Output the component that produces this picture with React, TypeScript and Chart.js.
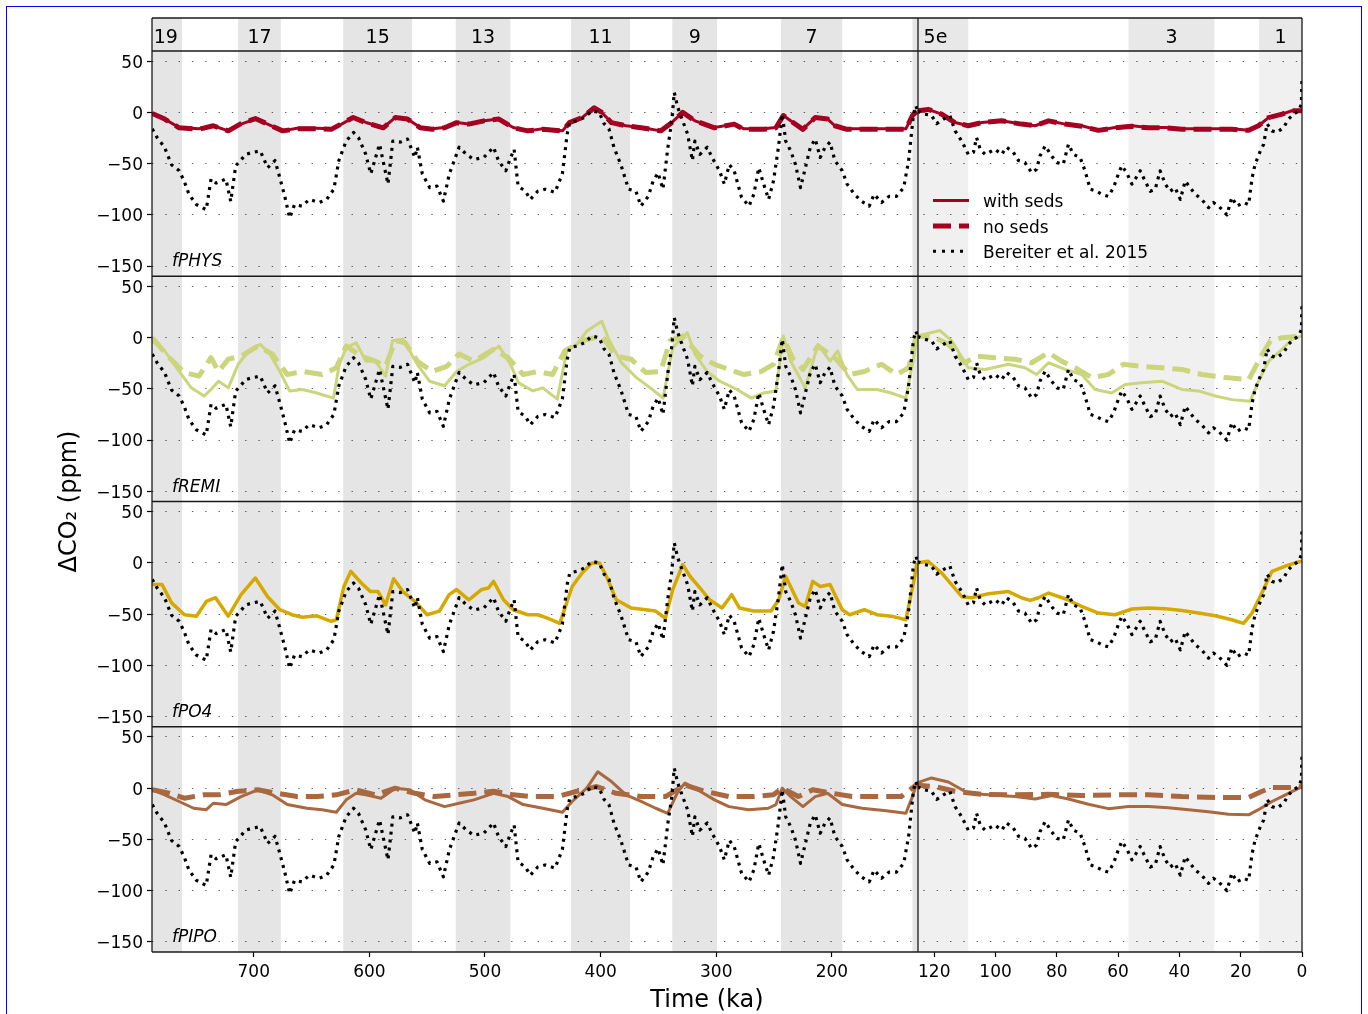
import React, { useEffect, useRef } from 'react';
import { Chart, registerables } from 'chart.js';

Chart.register(...registerables);

type Series = [number, number][];

// ---------- categories / labels ----------
const misLabels = ['19', '17', '15', '13', '11', '9', '7', '5e', '3', '1'];
const misStart = [790, 713.5, 622.6, 525.3, 425.5, 338, 244, 130.3, 56.6, 14];
const misEnd = [762, 676.6, 563, 478, 374.5, 299.3, 191, 108.9, 28.6, 0];
const xTicksLeft = [700, 600, 500, 400, 300, 200];
const xTicksRight = [120, 100, 80, 60, 40, 20, 0];
const yTicks = [50, 0, -50, -100, -150];
const panelLabels = ['fPHYS', 'fREMI', 'fPO4', 'fPIPO'];
const legendLabels = ['with seds', 'no seds', 'Bereiter et al. 2015'];

// ---------- Bereiter et al. 2015 (ΔCO2, ppm) [age ka, value] ----------
const bereiter: Series = [
  [787.8, -16], [783.6, -24.5], [777.2, -34], [771.1, -51], [764.5, -57], [760.2, -67], [756, -80], [749.6, -90],
  [741.1, -95], [736.9, -65], [732.6, -69], [724.1, -65], [719.9, -87], [715.6, -52], [711.4, -47], [707.1, -41],
  [700.8, -39], [694.4, -37.5], [688, -54], [681.6, -47], [677.4, -64], [673.2, -82], [668.9, -103], [664.7, -90],
  [658.3, -91.5], [651.9, -85], [643.4, -88], [637, -85], [630.7, -75], [626.4, -47], [620.1, -28], [613.7, -19.6],
  [609.4, -24.5], [603.1, -41], [598.8, -60], [594.6, -44], [591.2, -31], [588.2, -47], [583.9, -70], [579.7, -28],
  [573.3, -29], [567, -26], [560.6, -44], [558.5, -34], [554.2, -60], [547.8, -73.5], [541.5, -72], [536, -86.6],
  [530.8, -60], [522.4, -34], [516, -41], [509.6, -46], [501.1, -44], [492.6, -34], [488.4, -47], [482, -57],
  [477.8, -44], [474.8, -36], [471.4, -72], [465, -77], [460.8, -85], [454.4, -77], [448, -75], [439.5, -78],
  [433.1, -60], [428.9, -21], [426.7, -10], [420.4, -8], [414, -5], [407.6, 1.6], [401.3, 0], [397, -11],
  [392.8, -16], [388.5, -34], [382.2, -52], [375.8, -75], [369.4, -77], [365.2, -91.5], [358.8, -82], [354.6, -67],
  [350.3, -59], [346.1, -75], [341.8, -34], [338.4, -8], [336.3, 19.6], [333.3, 5], [329.1, -8], [324.8, -21],
  [320.6, -47], [318.5, -28], [314.2, -41], [307.8, -34], [303.6, -44], [297.2, -57], [293, -70], [288.7, -51],
  [284.5, -57], [278.1, -83], [271.7, -91.5], [267.5, -80], [263.2, -54], [259, -70], [254.7, -85], [250.5, -67],
  [246.2, -34], [242.9, -1.6], [239.9, -28], [235.6, -37.6], [231.4, -51], [227.1, -73.5], [222.9, -54], [218.6, -34],
  [214.4, -26], [210.1, -44], [205.9, -34], [201.6, -29], [197.4, -47], [191, -57], [186.8, -70], [180.4, -80],
  [174, -87], [167.7, -91.5], [163.4, -80], [157, -88], [150.6, -82], [144.3, -82], [137.9, -73.5], [133.6, -47],
  [129.4, -1.6], [127.3, 6.5], [125.8, 1.6], [123, -1.6], [120.9, -3], [119.2, -11], [117, -6.5], [114.9, -3],
  [113.2, -18], [111, -28], [108.9, -41], [107.2, -39], [106.2, -24.5], [105, -36], [103.4, -41], [100.2, -36],
  [98, -41], [96.4, -34], [94.2, -39], [92.5, -47], [90.4, -49], [88.2, -59], [86.6, -55.5], [85.5, -42.5],
  [83.8, -32.7], [81.7, -42.5], [80, -49], [77.9, -50.6], [76.2, -31], [74.6, -41], [72.4, -44], [70.8, -57],
  [69.1, -75], [67, -77], [65.3, -80], [63.2, -82], [61.5, -73.5], [59.9, -60], [58.8, -52], [57.2, -59],
  [55.5, -70], [54.4, -65], [52.8, -57], [51.2, -67], [49.5, -77], [47.9, -75], [46.3, -57], [44.6, -70],
  [43, -77], [41.4, -73.5], [39.7, -85], [38.1, -67], [36.5, -73.5], [34.8, -80], [32.7, -85], [30.5, -93],
  [28.9, -88], [27.2, -91.5], [24.5, -100], [22.9, -83], [21.2, -91.5], [19.1, -88], [17.4, -90], [16.3, -64],
  [15.3, -50.6], [13.6, -37.6], [12.5, -31], [11.4, -11], [9.8, -18], [8.2, -19.6], [6, -14.7], [4.4, -6.5],
  [2.7, -1.6], [1.1, 1.6], [0.2, 8], [0, 34],
];

// ---------- fPHYS ----------
const fphysWithSeds: Series = [
  [787.8, -1.6], [777, -6.5], [764.5, -14.7], [747.5, -16], [735, -13], [722, -18], [711, -11.4], [698.6, -6.5],
  [688, -11.4], [675, -18], [662.5, -15.4], [645.5, -15.4], [633, -16], [624, -11.4], [614, -5], [603, -9.8],
  [588, -14.7], [577.6, -5], [567, -6.5], [556, -14.7], [545.7, -16], [535, -14.7], [524.5, -9.8], [514, -11.4],
  [501, -8.2], [488, -6.5], [475.6, -14.7], [463, -18], [450, -16], [433, -18], [427, -9.8], [416, -5],
  [405.5, 5], [399, 0], [390.6, -9.8], [378, -13], [365, -14.7], [348, -18], [340, -11.4], [329, 0],
  [318.4, -8.2], [301.5, -14.7], [284.5, -11.4], [276, -16], [259, -16], [248.4, -14.7], [242, -3], [235.6, -8.2],
  [225, -16], [214.4, -5], [203.7, -6.5], [197.4, -13], [187, -16], [170, -16], [153, -16], [136, -16],
  [130.3, -3], [126.5, 1], [122, 3], [117.6, -1.6], [113.2, -9.8], [108.9, -13], [104.5, -9.8], [98, -8.2],
  [91.5, -11.4], [87.1, -13], [82.7, -8.2], [77.3, -11.4], [71.9, -13], [66.4, -17.3], [61, -14.7], [55.5, -13],
  [50.1, -14.7], [44.6, -14.7], [39.2, -16], [33.8, -16], [28.3, -16], [22.9, -16], [17.4, -17.3], [14.2, -13],
  [10.9, -5], [6.5, -1.6], [3.3, 1.6], [0, 1.6],
];
const fphysNoSeds: Series = [
  [787.8, -1], [777, -6.5], [764.5, -15], [747.5, -16.5], [735, -13], [722, -18], [711, -11], [698.6, -6],
  [688, -11.4], [675, -18], [662.5, -16], [645.5, -16], [633, -16.5], [624, -11], [614, -5], [603, -10],
  [588, -15], [577.6, -5], [567, -6.5], [556, -15], [545.7, -16.5], [535, -15], [524.5, -10], [514, -11.4],
  [501, -8.2], [488, -6.5], [475.6, -15], [463, -18], [450, -16.5], [433, -18], [427, -10], [416, -5],
  [405.5, 4.5], [399, 0], [390.6, -10], [378, -13], [365, -15], [348, -18], [340, -11.4], [329, 0],
  [318.4, -8.2], [301.5, -15], [284.5, -11.4], [276, -16.5], [259, -16.5], [248.4, -15], [242, -3], [235.6, -8.2],
  [225, -16.5], [214.4, -5], [203.7, -6.5], [197.4, -13], [187, -16.5], [170, -16.5], [153, -16.5], [136, -16.5],
  [130.3, -3], [126.5, 1], [122, 3], [117.6, -1.6], [113.2, -10], [108.9, -13], [104.5, -10], [98, -8.2],
  [91.5, -11.4], [87.1, -13], [82.7, -8.2], [77.3, -11.4], [71.9, -13.5], [66.4, -17.5], [61, -15], [55.5, -13.5],
  [50.1, -15], [44.6, -15], [39.2, -16.5], [33.8, -16.5], [28.3, -16.5], [22.9, -16.5], [17.4, -17.5], [14.2, -13],
  [10.9, -5], [6.5, -1.6], [3.3, 1.6], [0, 1.6],
];

// ---------- fREMI ----------
const fremiWithSeds: Series = [
  [787.8, -3], [777, -13], [764.5, -33], [754, -49], [743, -57], [737, -50.6], [730.5, -42.5], [722, -49],
  [713.5, -26], [703, -11.4], [694.4, -6.5], [686, -16], [677.4, -33], [669, -52], [658, -50.6], [645.5, -54],
  [631, -59], [626, -26], [620, -9.8], [611.5, -5], [603, -23], [594.6, -23], [586, -37.6], [580, -3],
  [571, -1.6], [558.5, -26], [548, -42.5], [535, -47], [524.5, -33], [514, -26], [501, -19.6], [488, -8.2],
  [478, -26], [471, -44], [458.6, -52], [450, -49], [437.5, -60], [429, -11.4], [420.4, -6.5], [412, 6.5],
  [399, 16], [393, -1.6], [382, -24.5], [369, -39], [357, -49], [346, -59], [337.6, -9.8], [325, 5],
  [318.4, -16], [308, -33], [297, -42.5], [282, -50.6], [269.6, -59], [259, -54], [248.4, -52], [242, 1.6],
  [235.6, -23], [223, -49], [212, -6.5], [201.6, -23], [195, -13], [187, -36], [178, -50.6], [161, -50.6],
  [148.5, -54], [136, -59], [130.3, -26], [126.5, -1.6], [125.8, 1.6], [118.1, 7], [114.3, -3], [108.9, -29.4],
  [103.4, -31], [95.8, -26], [90.4, -29.4], [86.6, -36], [82.7, -24.5], [77.3, -31], [71.9, -36], [67.5, -50.6],
  [62.1, -54], [57.7, -45.7], [52.3, -44], [45.7, -42.5], [39.2, -50.6], [33.8, -52], [28.3, -57], [22.9, -60.5],
  [16.9, -62], [14.2, -42.5], [10.9, -23], [6.5, -11.4], [3.3, -1.6], [0, 1.6],
];
const fremiNoSeds: Series = [
  [787.8, 0], [773, -19.6], [760, -34], [747.5, -37.6], [737, -19.6], [730.5, -33], [722, -21], [711, -18],
  [696.6, -8.2], [684, -16], [671, -36], [658, -33], [641, -36], [628.6, -29.4], [620, -8.2], [607, -18],
  [594.6, -23], [586, -28], [577.6, -3], [569, -5], [558.5, -23], [545.7, -33], [533, -28], [522.4, -16],
  [509.6, -23], [492.6, -11.4], [480, -19.6], [467, -36], [454.4, -33], [441.6, -36], [431, -13], [416, -3],
  [399, 1.6], [386.5, -18], [373.6, -21], [361, -34], [348, -33], [340, -3], [329, 1.6], [314, -18],
  [301.5, -26], [289, -31], [276, -36], [261, -33], [250.5, -26], [242, 0], [233.5, -21], [225, -31],
  [212, -8.2], [197.4, -19.6], [184.6, -36], [172, -33], [157, -26], [144, -36], [133.6, -29.4], [127.3, 0],
  [125.8, 1.6], [119.8, 0], [115.4, -6.5], [110, -24.5], [106.2, -18], [100.2, -19.6], [93.6, -21], [88.2, -24.5],
  [82.7, -14.7], [78.4, -23], [74, -29.4], [68.6, -39], [63.2, -36], [58.3, -26], [52.3, -28], [45.7, -29.4],
  [39.2, -31], [32.7, -36], [25, -39], [17.4, -41], [13.6, -19.6], [10.3, -3], [6.5, 0], [0, 1.6],
];

// ---------- fPO4 ----------
const fpo4WithSeds: Series = [
  [787.8, -21], [779.4, -21], [771, -39], [760, -50.6], [749.6, -52], [741, -37.6], [733, -34], [722, -52],
  [711, -31], [698.6, -14.7], [688, -33], [677.4, -45.7], [667, -50.6], [658, -53], [645.5, -51.6], [633, -57],
  [628.6, -55.5], [622, -23], [616, -8.2], [607, -19.6], [599, -28], [592.5, -28], [586, -41], [579, -15.4],
  [571, -28], [560.6, -37.6], [550, -50.6], [539.4, -47], [531, -31], [524.5, -26], [514, -36], [503, -26],
  [497, -24.5], [492.6, -18], [484, -36], [475.6, -45.7], [463, -50.6], [454.4, -50.6], [446, -54], [435.3, -59],
  [424.6, -23], [416, -9.8], [407.6, 0], [401, 0], [395, -13], [386.5, -36], [373.6, -44], [361, -45.7],
  [352.4, -47], [344, -54], [337.6, -26], [329, -1.6], [322.7, -13], [314, -24.5], [305.7, -36], [295, -44],
  [286.6, -31], [280, -44], [267.5, -47], [252.6, -47], [246, -36], [240, -13], [229, -39], [223, -42.5],
  [216.5, -18], [210, -23], [201.6, -21], [191, -45.7], [184.6, -50.6], [172, -45.7], [161, -50.6], [148.5, -52],
  [136, -55.5], [129.4, -19.6], [126.5, -1.6], [125.8, 0], [122, 1.6], [117.6, -9.8], [111, -33], [107.8, -34],
  [102.3, -30], [95.8, -28], [91.5, -34], [88.7, -36.6], [86, -34], [82.7, -29.4], [77.3, -35], [71.9, -42.5],
  [66.4, -49], [61, -50.6], [55.5, -45], [50.1, -44], [44.6, -44.8], [39.2, -46.4], [33.8, -49], [28.3, -51.6],
  [22.9, -55.5], [19.1, -59], [16.3, -49], [13.1, -29.4], [9.8, -8.2], [5.4, -3], [1.1, 1], [0, 1.6],
];

// ---------- fPIPO ----------
const fpipoWithSeds: Series = [
  [787.8, -1.6], [777, -6.5], [764.5, -13], [752, -19.6], [741, -21], [735, -14.7], [724, -16], [711, -8.2],
  [696.6, -1.6], [684, -6.5], [671, -16], [654, -19.6], [641, -21], [628.6, -23.5], [620, -11.4], [611.5, -5],
  [603, -6.5], [590, -9.8], [577.6, 0], [565, -1.6], [552, -11.4], [535, -18], [522.4, -14.7], [509.6, -11.4],
  [492.6, -5], [480, -8.2], [467, -16], [450, -19.6], [433, -23.5], [424.6, -13], [412, 0], [402.5, 16],
  [390.6, 6.5], [378, -6.5], [365, -13], [352.4, -19.6], [342, -24.5], [333, -3], [327, 5], [314, -3],
  [301.5, -11.4], [289, -18], [272, -21], [255, -19.6], [248.4, -16], [243, 0], [235.6, -8.2], [225, -18],
  [214.4, -8.2], [203.7, -5], [191, -16], [174, -19.6], [153, -22], [136, -24.5], [130.3, -8.2], [126.5, 5],
  [125.8, 5], [120.9, 10], [115.4, 6], [108.9, -5], [102.3, -6.5], [93.6, -8.2], [87.1, -10.5], [81.7, -7.2],
  [76.2, -10.5], [69.7, -15.7], [63.2, -20], [56.6, -18], [50.1, -18], [43.6, -19], [37, -21], [30.5, -23],
  [24, -25.5], [17.4, -26], [14.2, -21], [9.8, -13], [5.4, -6.5], [0, 1.6],
];
const fpipoNoSeds: Series = [
  [787.8, -1.6], [773, -5], [760, -9.8], [743, -6.5], [730.5, -6.5], [713.5, -3], [696.6, -1.6], [680, -5],
  [662.5, -8.2], [645.5, -8.2], [628.6, -6.5], [611.5, -1.6], [594.6, -6.5], [577.6, 0], [560.6, -5], [543.6, -8.2],
  [526.6, -6.5], [509.6, -5], [492.6, -3], [475.6, -6.5], [458.6, -8.2], [437.5, -8.2], [420.4, -3], [403.4, 1.6],
  [386.5, -5], [365, -8.2], [344, -8.2], [327, 3], [310, -3], [289, -8.2], [267.5, -8.2], [250.5, -6.5],
  [243, 0], [229, -8.2], [216.5, -1.6], [199.5, -5], [182.5, -8.2], [161, -8.2], [140, -8.2], [127.3, 3],
  [125.8, 3], [119.8, 1.6], [113.2, -3], [104.5, -6], [93.6, -6.5], [82.7, -6], [71.9, -7.2], [61, -6.5],
  [50.1, -6.5], [39.2, -8.2], [28.3, -9], [17.4, -9], [13, -3], [9.8, 0.6], [4.4, 0.6], [0, 1.6],
];

// ---------- styling ----------
const FONT = "'DejaVu Sans', 'Liberation Sans', sans-serif";
const C_PHYS = '#a50021';
const C_REMI = '#cad57c';
const C_PO4 = '#d6a900';
const C_PIPO = '#a9683f';
const C_DATA = '#000000';

const ROWS = [
  { id: 'y1', label: panelLabels[0], color: C_PHYS, withSeds: fphysWithSeds, noSeds: fphysNoSeds as Series | null },
  { id: 'y2', label: panelLabels[1], color: C_REMI, withSeds: fremiWithSeds, noSeds: fremiNoSeds as Series | null },
  { id: 'y3', label: panelLabels[2], color: C_PO4, withSeds: fpo4WithSeds, noSeds: null as Series | null },
  { id: 'y4', label: panelLabels[3], color: C_PIPO, withSeds: fpipoWithSeds, noSeds: fpipoNoSeds as Series | null },
];

const W = 1368;
const H = 1014;
const LEFT_AXIS_W = 152;
const X_AXIS_H = 62;
const TOP_PAD = 18;
const RIGHT_PAD = 66;
const STRIP_H = 33;
const ROW_H = 225.25;
const X_LEFT_MIN = 125.5;
const X_LEFT_MAX = 788;
const X_RIGHT_MIN = 0;
const X_RIGHT_MAX = 125.3;
const Y_MIN = -160;
const Y_MAX = 60;

const fmt = (v: any) => String(v).replace('-', '\u2212');

function pts(s: Series, lo: number, hi: number) {
  return s.filter(([a]) => a >= lo && a <= hi).map(([a, v]) => ({ x: a, y: v }));
}

const decorPlugin = {
  id: 'decor',
  beforeDraw(chart: any) {
    const { ctx, chartArea, scales } = chart;
    const yTop = scales.yTop;
    ctx.save();
    ctx.fillStyle = '#ffffff';
    ctx.fillRect(chartArea.left, chartArea.top, chartArea.right - chartArea.left, chartArea.bottom - chartArea.top);
    const sides: [any, string, string][] = [
      [scales.xL, '#e5e5e5', '#e5e5e5'],
      [scales.xR, '#e8e8e8', '#f0f0f0'],
    ];
    for (let i = 0; i < misLabels.length; i++) {
      for (const [sc, stripColor, rowColor] of sides) {
        const a = sc.getPixelForValue(misStart[i]);
        const b = sc.getPixelForValue(misEnd[i]);
        const x0 = Math.max(Math.min(a, b), sc.left);
        const x1 = Math.min(Math.max(a, b), sc.right);
        if (x1 <= x0) continue;
        ctx.fillStyle = stripColor;
        ctx.fillRect(x0, yTop.top, x1 - x0, yTop.bottom - yTop.top);
        ctx.fillStyle = rowColor;
        ctx.fillRect(x0, yTop.bottom, x1 - x0, chartArea.bottom - yTop.bottom);
      }
    }
    ctx.restore();
  },
  afterDraw(chart: any) {
    const { ctx, chartArea, scales } = chart;
    const { xL, xR, yTop } = scales;
    ctx.save();

    // frame
    ctx.strokeStyle = '#1a1a1a';
    ctx.lineWidth = 1.3;
    ctx.setLineDash([]);
    const hl = (y: number) => {
      ctx.beginPath();
      ctx.moveTo(chartArea.left, y);
      ctx.lineTo(chartArea.right, y);
      ctx.stroke();
    };
    const vl = (x: number) => {
      ctx.beginPath();
      ctx.moveTo(x, chartArea.top);
      ctx.lineTo(x, chartArea.bottom);
      ctx.stroke();
    };
    hl(yTop.top);
    hl(yTop.bottom);
    ROWS.forEach((r) => hl(scales[r.id].bottom));
    vl(chartArea.left);
    vl(xR.left);
    vl(chartArea.right);

    // MIS labels
    ctx.fillStyle = '#000';
    ctx.font = `19px ${FONT}`;
    ctx.textAlign = 'center';
    ctx.textBaseline = 'middle';
    for (let i = 0; i < misLabels.length; i++) {
      const c = (misStart[i] + misEnd[i]) / 2;
      const sc = c > X_RIGHT_MAX ? xL : xR;
      ctx.fillText(misLabels[i], sc.getPixelForValue(c), (yTop.top + yTop.bottom) / 2 + 4);
    }

    // panel labels
    ctx.font = `italic 17px ${FONT}`;
    ctx.textAlign = 'left';
    ctx.textBaseline = 'alphabetic';
    ROWS.forEach((r) => {
      ctx.fillText(r.label, chartArea.left + 20, scales[r.id].bottom - 10);
    });

    // legend (row 1, right panel)
    const y1 = scales.y1;
    const lx0 = xR.left + 15;
    const lx1 = xR.left + 51;
    const ly = [y1.getPixelForValue(-86), y1.getPixelForValue(-111), y1.getPixelForValue(-135.5)];
    const styles = [
      { color: C_PHYS, width: 3, dash: [] as number[] },
      { color: C_PHYS, width: 5, dash: [18, 8] },
      { color: C_DATA, width: 3, dash: [3, 6] },
    ];
    styles.forEach((s, i) => {
      ctx.strokeStyle = s.color;
      ctx.lineWidth = s.width;
      ctx.setLineDash(s.dash);
      ctx.lineCap = 'butt';
      ctx.beginPath();
      ctx.moveTo(lx0, ly[i]);
      ctx.lineTo(lx1, ly[i]);
      ctx.stroke();
    });
    ctx.setLineDash([]);
    ctx.fillStyle = '#000';
    ctx.font = `17px ${FONT}`;
    ctx.textBaseline = 'middle';
    legendLabels.forEach((t, i) => ctx.fillText(t, xR.left + 65, ly[i] + 2));

    // axis titles
    ctx.font = `24px ${FONT}`;
    ctx.textAlign = 'center';
    ctx.textBaseline = 'middle';
    ctx.fillText('Time (ka)', (chartArea.left + chartArea.right) / 2 - 20, chartArea.bottom + 49);
    ctx.translate(70, (yTop.bottom + chartArea.bottom) / 2);
    ctx.rotate(-Math.PI / 2);
    ctx.fillText('\u0394CO\u2082 (ppm)', 0, 0);
    ctx.restore();
  },
};

export default function App() {
  const ref = useRef<HTMLCanvasElement>(null);

  useEffect(() => {
    const canvas = ref.current;
    if (!canvas) return;
    Chart.defaults.font.family = FONT;
    Chart.defaults.color = '#000';

    const datasets: any[] = [];
    const sides = [
      { x: 'xL', lo: 124, hi: 800 },
      { x: 'xR', lo: -1, hi: 127.5 },
    ];
    const base = {
      pointRadius: 0,
      fill: false,
      tension: 0,
      borderCapStyle: 'butt',
      borderJoinStyle: 'round',
      spanGaps: true,
    };
    // observations on top
    ROWS.forEach((r) => {
      sides.forEach((s) => {
        datasets.push({
          ...base,
          label: legendLabels[2],
          data: pts(bereiter, s.lo, s.hi),
          xAxisID: s.x,
          yAxisID: r.id,
          borderColor: C_DATA,
          borderWidth: 3.2,
          borderDash: [3, 5],
        });
      });
    });
    ROWS.forEach((r) => {
      sides.forEach((s) => {
        datasets.push({
          ...base,
          label: legendLabels[0],
          data: pts(r.withSeds, s.lo, s.hi),
          xAxisID: s.x,
          yAxisID: r.id,
          borderColor: r.color,
          borderWidth: r.noSeds ? 3 : 3.5,
        });
        if (r.noSeds) {
          datasets.push({
            ...base,
            label: legendLabels[1],
            data: pts(r.noSeds, s.lo, s.hi),
            xAxisID: s.x,
            yAxisID: r.id,
            borderColor: r.color,
            borderWidth: 5,
            borderDash: [18, 8],
          });
        }
      });
    });

    const scales: any = {
      yTop: {
        type: 'linear',
        position: 'left',
        stack: 'rows',
        stackWeight: STRIP_H,
        weight: 10,
        min: 0,
        max: 1,
        afterFit: (s: any) => {
          s.width = LEFT_AXIS_W;
        },
        ticks: { display: false },
        grid: { display: false },
        border: { display: false },
      },
    };
    ROWS.forEach((r, i) => {
      scales[r.id] = {
        type: 'linear',
        position: 'left',
        stack: 'rows',
        stackWeight: ROW_H,
        weight: 8 - i,
        min: Y_MIN,
        max: Y_MAX,
        afterBuildTicks: (s: any) => {
          s.ticks = yTicks.map((v) => ({ value: v }));
        },
        afterFit: (s: any) => {
          s.width = LEFT_AXIS_W;
        },
        ticks: { callback: fmt, padding: 4, labelOffset: 2, font: { size: 17 }, color: '#000', autoSkip: false },
        grid: {
          drawOnChartArea: true,
          color: 'rgba(40,40,40,0.75)',
          lineWidth: 1,
          drawTicks: true,
          tickLength: 5,
          tickColor: '#000',
          tickWidth: 1.2,
          tickBorderDash: [],
        },
        border: { display: false, dash: [1.4, 11.9] },
      };
    });
    const xCommon = (ticks: number[]) => ({
      type: 'linear',
      position: 'bottom',
      stack: 'cols',
      reverse: true,
      afterBuildTicks: (s: any) => {
        s.ticks = ticks.map((v) => ({ value: v }));
      },
      afterFit: (s: any) => {
        s.height = X_AXIS_H;
      },
      ticks: { callback: fmt, padding: 5, font: { size: 17 }, color: '#000', maxRotation: 0, autoSkip: false },
      grid: { drawOnChartArea: false, drawTicks: true, tickLength: 5, tickColor: '#000', tickWidth: 1.2 },
      border: { display: false },
    });
    scales.xL = { ...xCommon(xTicksLeft), min: X_LEFT_MIN, max: X_LEFT_MAX, stackWeight: 766, weight: 0 };
    scales.xR = { ...xCommon(xTicksRight), min: X_RIGHT_MIN, max: X_RIGHT_MAX, stackWeight: 384, weight: 1 };

    const chart = new Chart(canvas, {
      type: 'line',
      data: { datasets },
      options: {
        responsive: false,
        animation: false,
        devicePixelRatio: 1,
        events: [],
        layout: { padding: { left: 0, top: TOP_PAD, right: RIGHT_PAD, bottom: 0 } },
        plugins: {
          legend: { display: false },
          tooltip: { enabled: false },
          title: { display: false },
        },
        scales,
      },
      plugins: [decorPlugin],
    } as any);

    return () => chart.destroy();
  }, []);

  return (
    <div style={{ position: 'fixed', left: 0, top: 0, width: W, height: H, overflow: 'hidden', background: '#fff' }}>
      <div
        style={{
          position: 'absolute',
          left: 6,
          top: 6,
          width: 1354,
          height: 1100,
          border: '1px solid #0000ff',
        }}
      />
      <canvas ref={ref} width={W} height={H} style={{ position: 'absolute', left: 0, top: 0, width: W, height: H }} />
    </div>
  );
}
